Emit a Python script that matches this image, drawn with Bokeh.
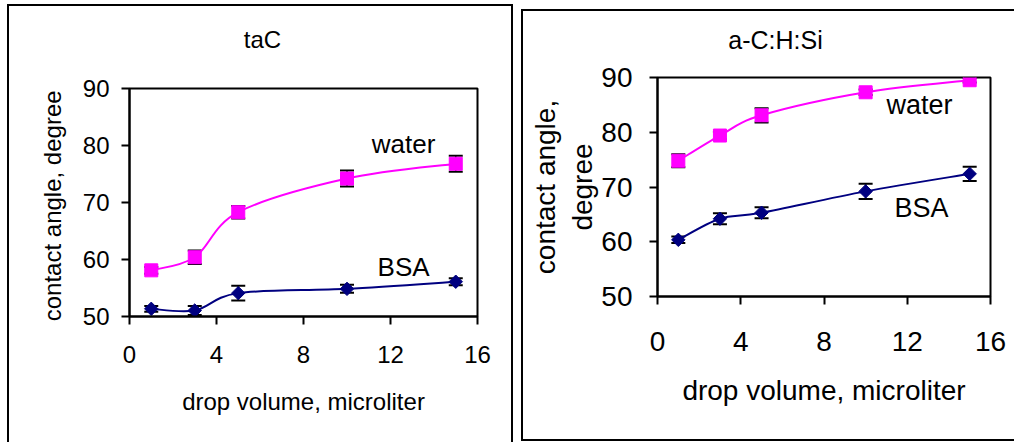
import numpy as np
from bokeh.plotting import figure
from bokeh.models import (Range1d, ColumnDataSource, Whisker, TeeHead, Label,
                          LinearAxis, FixedTicker)
from bokeh.layouts import row, column
from bokeh.embed import file_html
from bokeh.resources import INLINE

# ---- data ----
volume = [1, 3, 5, 10, 15]
tac_water = [58.1, 60.4, 68.3, 74.2, 76.8]
tac_water_err = [0.6, 1.2, 1.1, 1.4, 1.4]
tac_bsa = [51.35, 51.05, 54.1, 54.85, 56.1]
tac_bsa_err = [0.5, 0.8, 1.3, 0.7, 0.6]
si_water = [74.8, 79.4, 83.1, 87.3, 89.5]
si_water_err = [1.2, 0.7, 1.3, 0.5, 0.4]
si_bsa = [60.35, 64.2, 65.3, 69.2, 72.4]
si_bsa_err = [0.6, 1.0, 1.0, 1.4, 1.3]
x_ticks = [0, 4, 8, 12, 16]
y_ticks = [50, 60, 70, 80, 90]

FONT = "Liberation Sans"
MAGENTA = "#FF00FF"
NAVY = "#000080"
BORDER = "2px solid black"


def smooth(xs, ys):
    x = np.asarray(xs, float)
    y = np.asarray(ys, float)
    n = len(x)
    xp = np.concatenate([[x[0]], x, [x[-1]]])
    yp = np.concatenate([[y[0]], y, [y[-1]]])
    return dict(
        x0=x[:-1], y0=y[:-1], x1=x[1:], y1=y[1:],
        cx0=x[:-1] + (xp[2:n + 1] - xp[0:n - 1]) / 6,
        cy0=y[:-1] + (yp[2:n + 1] - yp[0:n - 1]) / 6,
        cx1=x[1:] - (xp[3:n + 2] - xp[1:n]) / 6,
        cy1=y[1:] - (yp[3:n + 2] - yp[1:n]) / 6,
    )


def series(p, ys, errs, color, marker, size, angle=0.0):
    src = ColumnDataSource(dict(
        x=volume, y=ys,
        upper=[v + e for v, e in zip(ys, errs)],
        lower=[v - e for v, e in zip(ys, errs)],
    ))
    w = Whisker(source=src, base="x", upper="upper", lower="lower",
                dimension="height", line_color="black", line_width=1.5,
                level="underlay",
                upper_head=TeeHead(size=14, line_color="black", line_width=2),
                lower_head=TeeHead(size=14, line_color="black", line_width=2))
    p.add_layout(w)
    s = smooth(volume, ys)
    p.bezier(line_color=color, line_width=2, **s)
    p.scatter("x", "y", source=src, marker=marker, size=size, angle=angle,
              fill_color=color, line_color=color)


def panel(width, height, mb, title, t_x, t_standoff, fs_title,
          water, werr, bsa, berr, wpos, bpos, fs_note, fs_tick, fs_label,
          ylabel, ylabel_standoff, ytick_standoff, xlabel_standoff,
          xtick_standoff, margin):
    p = figure(width=width, height=height, x_range=Range1d(0, 16),
               y_range=Range1d(50, 90), output_backend="svg",
               toolbar_location=None,
               min_border_left=mb[0], min_border_right=mb[1],
               min_border_top=mb[2], min_border_bottom=mb[3],
               background_fill_color="white", border_fill_color="white")
    p.margin = margin
    p.grid.visible = False
    p.outline_line_color = "black"
    p.outline_line_width = 2
    for ax in (p.xaxis[0], p.yaxis[0]):
        ax.axis_line_color = "black"
        ax.axis_line_width = 2
        ax.major_tick_line_color = "black"
        ax.major_tick_line_width = 2
        ax.major_tick_out = 8
        ax.major_tick_in = 0
        ax.minor_tick_line_color = None
        ax.major_label_text_font = FONT
        ax.major_label_text_font_size = f"{fs_tick}px"
        ax.major_label_text_color = "black"
        ax.axis_label_text_font = FONT
        ax.axis_label_text_font_size = f"{fs_label}px"
        ax.axis_label_text_font_style = "normal"
        ax.axis_label_text_color = "black"
    p.xaxis.ticker = x_ticks
    p.yaxis.ticker = y_ticks
    p.xaxis.axis_label = "drop volume, microliter"
    p.yaxis.axis_label = ylabel
    p.yaxis.axis_label_standoff = ylabel_standoff
    p.yaxis.major_label_standoff = ytick_standoff
    p.xaxis.axis_label_standoff = xlabel_standoff
    p.xaxis.major_label_standoff = xtick_standoff

    # panel title, carried by a bare axis above the frame
    title_axis = LinearAxis(ticker=FixedTicker(ticks=[t_x]),
                            major_label_overrides={t_x: title},
                            axis_line_color=None, major_tick_line_color=None,
                            minor_tick_line_color=None,
                            major_tick_out=0, major_tick_in=0,
                            major_label_standoff=t_standoff,
                            major_label_text_font=FONT,
                            major_label_text_font_size=f"{fs_title}px",
                            major_label_text_color="black")
    p.add_layout(title_axis, "above")

    series(p, water, werr, MAGENTA, "square", 13)
    series(p, bsa, berr, NAVY, "square", 9.5, angle=np.pi / 4)

    for txt, pos in (("water", wpos), ("BSA", bpos)):
        p.add_layout(Label(x=pos[0], y=pos[1], text=txt, text_align="center",
                           text_baseline="middle", text_font=FONT,
                           text_font_size=f"{fs_note}px", text_color="black"))
    return p


# left panel: canvas x 9..511, y 22..442 ; frame x 129..477, y 88..316
p1 = panel(502, 420, (120, 34, 66, 126), "taC", 6.115, 36, 24,
           tac_water, tac_water_err, tac_bsa, tac_bsa_err,
           (12.6, 80.35), (12.6, 58.6), 26, 24, 24,
           "contact angle,  degree", 14, 12, 22, 21,
           (16, 0, 0, 0))

# right panel: canvas x 523..1014, y 11..422 ; frame x 657..990, y 77..296
p2 = panel(491, 411, (134, 24, 66, 126), "a-C:H:Si", 5.67, 24, 25,
           si_water, si_water_err, si_bsa, si_bsa_err,
           (12.59, 84.9), (12.69, 66.25), 27, 28, 28,
           "contact angle,\ndegree", 0, 17, 21, 27,
           (0, 0, 17, 0))

w1 = column(p1, margin=(4, 0, 0, 7),
            styles={"border-left": BORDER, "border-top": BORDER,
                    "border-right": BORDER})
w2 = column(p2, margin=(9, 0, 0, 8),
            styles={"border-left": BORDER, "border-top": BORDER,
                    "border-bottom": BORDER})

layout = row(w1, w2)
open("out.html", "w").write(file_html(layout, INLINE))
